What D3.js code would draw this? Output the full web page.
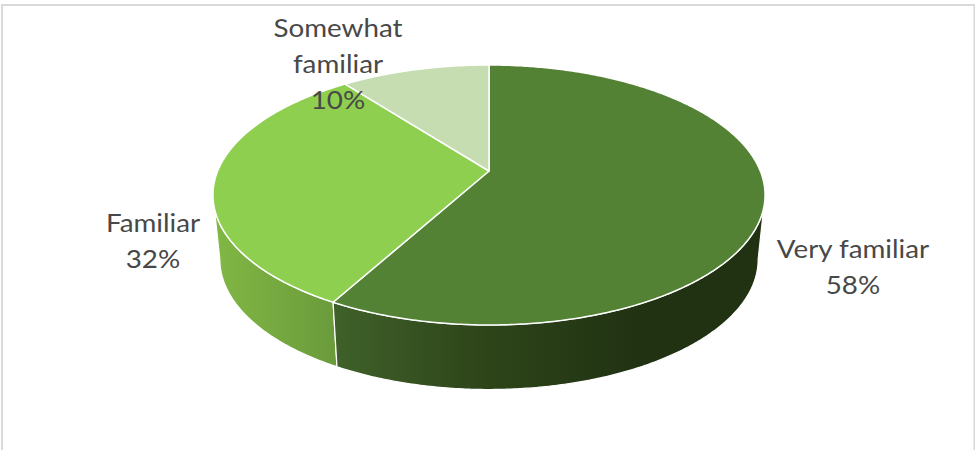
<!DOCTYPE html>
<html><head><meta charset="utf-8">
<script src="https://cdnjs.cloudflare.com/ajax/libs/d3/7.8.5/d3.min.js"></script>
<style>html,body{margin:0;padding:0;background:#fff;overflow:hidden}svg{display:block}</style>
</head><body><svg id="c" width="975" height="450"></svg>
<script>
const categories = ["Very familiar", "Familiar", "Somewhat familiar"];
const values = [58, 31.6, 10.4];
const topColors = ["#548235", "#8ecf4f", "#c5ddb0"];
const labelLines = [["Very familiar"], ["Familiar"], ["Somewhat", "familiar"]];

const W = 975, H = 450;
const svg = d3.select("#c");

// Perspective projection of the unit disc
const cx = 489, persp = 0.1846, kx = 271.3, ky = -94, y0 = 171, depth = 64.5, bottomScale = 0.975;
const project = a => {
  const X = Math.sin(a), Y = Math.cos(a), w = 1 + persp * Y;
  return [cx + kx * X / w, (ky * Y + y0) / w];
};
const projectBottom = a => {
  const [x, y] = project(a);
  return [cx + (x - cx) * bottomScale, y + depth];
};
const line = d3.line();
const arcAngles = (a0, a1) => {
  const n = Math.max(2, Math.ceil((a1 - a0) / 0.01));
  return d3.range(n + 1).map(i => a0 + (a1 - a0) * i / n);
};

const arcs = d3.pie().sort(null).value(d => d)(values);
const total = d3.sum(values);
const pct = d3.format(".0%");

// Frame
svg.append("path")
  .attr("d", "M2,450V5H974.5V450")
  .attr("fill", "none").attr("stroke", "#d9d9d9").attr("stroke-width", 2);

// Gradients for the side wall
const defs = svg.append("defs");
const sideStops = [
  [[0, "#3f6029"], [0.5, "#2d4419"], [1, "#213213"]],
  [[0, "#80b644"], [1, "#6a9a3b"]]
];
const sideRanges = [[338, 640], [220, 338]];
sideStops.forEach((stops, i) => {
  const g = defs.append("linearGradient").attr("id", "side" + i)
    .attr("gradientUnits", "userSpaceOnUse")
    .attr("x1", sideRanges[i][0]).attr("x2", sideRanges[i][1]).attr("y1", 0).attr("y2", 0);
  stops.forEach(s => g.append("stop").attr("offset", s[0]).attr("stop-color", s[1]));
});

// Side walls: only the front-facing part of the rim
const visStart = Math.PI - Math.acos(persp), visEnd = Math.PI + Math.acos(persp);
[1, 0].forEach(i => {
  const a0 = Math.max(arcs[i].startAngle, visStart), a1 = Math.min(arcs[i].endAngle, visEnd);
  if (a1 <= a0) return;
  const as = arcAngles(a0, a1);
  const pts = as.map(project).concat(as.slice().reverse().map(projectBottom));
  svg.append("path").attr("d", line(pts) + "Z")
    .attr("fill", `url(#side${i})`).attr("stroke", "#fff").attr("stroke-width", 1.2).attr("stroke-linejoin", "round");
});

// Top face
arcs.forEach((d, i) => {
  const pts = [[cx, y0]].concat(arcAngles(d.startAngle, d.endAngle).map(project));
  svg.append("path").attr("d", line(pts) + "Z")
    .attr("fill", topColors[i]).attr("stroke", "#fff").attr("stroke-width", 1.5).attr("stroke-linejoin", "round");
});

// Labels
const labelX = [853, 153, 338], labelY = [258.5, 232.5, 37.5];
const lineH = 36, stretch = 1.09;
arcs.forEach((d, i) => {
  const t = svg.append("text").attr("text-anchor", "middle")
    .attr("transform", `translate(${labelX[i]},0) scale(${stretch},1)`)
    .attr("font-family", "Lato, 'Open Sans', sans-serif").attr("font-size", 25.5).attr("fill", "#484848");
  labelLines[i].concat([pct(values[i] / total)]).forEach((s, k) => {
    t.append("tspan").attr("x", 0).attr("y", labelY[i] + k * lineH).text(s);
  });
});
</script></body></html>
